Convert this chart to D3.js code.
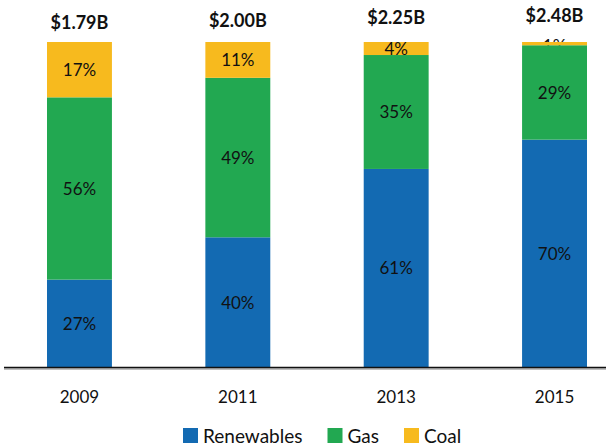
<!DOCTYPE html>
<meta charset="utf-8">
<script src="https://d3js.org/d3.v7.min.js"></script>
<style>
    body { margin: 0; background: #fff; }
    text { font-family: Lato, "Open Sans", sans-serif; fill: #111; }
</style>
<div id="my_dataviz"></div>
<script>

    // data
    var years = ["2009", "2011", "2013", "2015"];
    var totals = [1.79, 2.00, 2.25, 2.48];          // $ billions
    var totalLabels = ["$1.79B", "$2.00B", "$2.25B", "$2.48B"];
    var renewables = [27, 40, 61, 70];
    var gas = [56, 49, 35, 29];
    var coal = [17, 11, 4, 1];
    var seriesNames = ["Renewables", "Gas", "Coal"];
    var seriesColors = ["#136ab2", "#22a851", "#f7ba1e"];

    var width = 606, height = 448;

    var svg = d3.select("#my_dataviz")
        .append("svg")
        .attr("width", width)
        .attr("height", height);

    var table = years.map(function (y, i) {
        return { year: y, Renewables: renewables[i], Gas: gas[i], Coal: coal[i] };
    });
    var stacked = d3.stack().keys(seriesNames)(table);

    var x = d3.scaleBand()
        .domain(years)
        .range([47, 587])
        .paddingInner(0.59)
        .paddingOuter(0);

    var y = d3.scaleLinear()
        .domain([0, 100])
        .range([367.5, 42]);

    var color = d3.scaleOrdinal().domain(seriesNames).range(seriesColors);

    // layer for labels that don't fit in their slice (drawn under the bars)
    var hiddenLabels = svg.append("g");
    var bars = svg.append("g");
    var labels = svg.append("g");

    stacked.forEach(function (s) {
        bars.selectAll(null)
            .data(s)
            .enter()
            .append("rect")
            .attr("x", function (d) { return x(d.data.year); })
            .attr("y", function (d) { return y(d[1]); })
            .attr("width", x.bandwidth())
            .attr("height", function (d) { return y(d[0]) - y(d[1]); })
            .style("fill", color(s.key));

        s.forEach(function (d) {
            var h = y(d[0]) - y(d[1]);
            var layer = h < 12 ? hiddenLabels : labels;
            layer.append("text")
                .attr("x", x(d.data.year) + x.bandwidth() / 2)
                .attr("y", (y(d[0]) + y(d[1])) / 2 + (h < 12 ? 2 : 0))
                .attr("dy", "0.36em")
                .attr("text-anchor", "middle")
                .style("font-size", "17px")
                .text((d[1] - d[0]) + "%");
        });
    });

    // total spend above each bar, nudged by size of total
    var ty = d3.scaleLinear().domain([1.79, 2.48]).range([29, 21.5]);
    svg.append("g")
        .selectAll("text")
        .data(years)
        .enter()
        .append("text")
        .attr("x", function (d) { return x(d) + x.bandwidth() / 2; })
        .attr("y", function (d, i) { return ty(totals[i]); })
        .attr("text-anchor", "middle")
        .style("font-size", "18px")
        .style("font-weight", "bold")
        .text(function (d, i) { return totalLabels[i]; });

    // baseline
    svg.append("line")
        .attr("x1", 4).attr("x2", width)
        .attr("y1", 369).attr("y2", 369)
        .style("stroke", "#aaa").style("stroke-width", 1.5);
    svg.append("line")
        .attr("x1", 4).attr("x2", width)
        .attr("y1", 367.5).attr("y2", 367.5)
        .style("stroke", "#111").style("stroke-width", 1.5);

    // X axis labels
    var xAxis = svg.append("g")
        .attr("transform", "translate(0,403)")
        .call(d3.axisBottom(x).tickSize(0).tickPadding(0));
    xAxis.select(".domain").remove();
    xAxis.selectAll("text")
        .attr("dy", 0)
        .style("font-size", "17px")
        .style("font-family", "Lato, sans-serif")
        .style("fill", "#111");

    // legend
    var legend = svg.append("g").attr("transform", "translate(183,428)");
    var lx = 0;
    seriesNames.forEach(function (name) {
        var item = legend.append("g").attr("transform", "translate(" + lx + ",0)");
        item.append("rect")
            .attr("width", 15).attr("height", 15)
            .style("fill", color(name));
        var t = item.append("text")
            .attr("x", 20).attr("y", 14.5)
            .style("font-size", "19px")
            .text(name);
        lx += 20 + t.node().getComputedTextLength() + 25;
    });

</script>
